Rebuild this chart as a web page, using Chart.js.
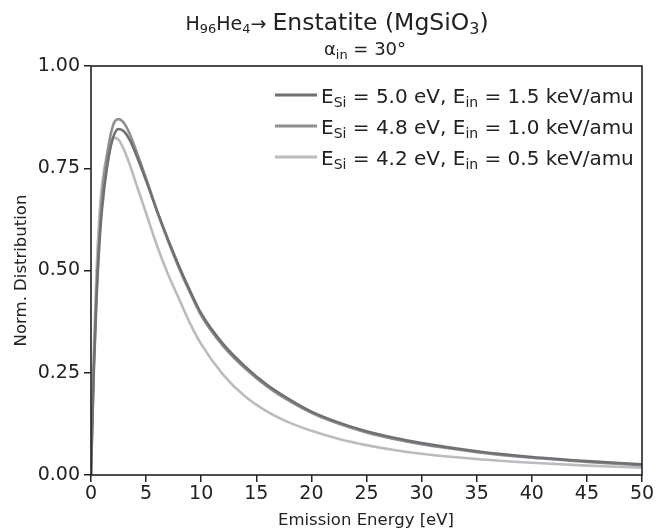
<!DOCTYPE html>
<html>
<head>
<meta charset="utf-8">
<title>Enstatite emission energy</title>
<script src="https://cdn.jsdelivr.net/npm/chart.js@4.4.1/dist/chart.umd.min.js"></script>
<style>
  html, body { margin: 0; padding: 0; background: #fff; }
  #wrap { width: 670px; height: 529px; }
</style>
</head>
<body>
<div id="wrap"><canvas id="chart" width="670" height="529"></canvas></div>
<script>
const ENERGY = [0, 0.25, 0.5, 0.75, 1, 1.5, 2, 2.5, 3, 3.5, 4, 5, 6, 7, 8, 9, 10,
  12, 14, 16, 18, 20, 22.5, 25, 27.5, 30, 35, 40, 45, 50];

// E_Si = 5.0 eV, E_in = 1.5 keV/amu
const DIST_50 = [0, 0.25, 0.43, 0.56, 0.65, 0.76, 0.825, 0.846, 0.84, 0.82, 0.79, 0.72, 0.645,
  0.575, 0.51, 0.45, 0.395, 0.32, 0.265, 0.22, 0.185, 0.155, 0.128, 0.107, 0.091, 0.078,
  0.058, 0.044, 0.034, 0.026];
// E_Si = 4.8 eV, E_in = 1.0 keV/amu
const DIST_48 = [0, 0.26, 0.45, 0.58, 0.68, 0.79, 0.855, 0.87, 0.86, 0.835, 0.80, 0.725, 0.645,
  0.572, 0.505, 0.445, 0.39, 0.315, 0.26, 0.216, 0.181, 0.152, 0.125, 0.104, 0.088, 0.075,
  0.056, 0.042, 0.032, 0.024];
// E_Si = 4.2 eV, E_in = 0.5 keV/amu
const DIST_42 = [0, 0.3, 0.5, 0.63, 0.71, 0.79, 0.825, 0.82, 0.795, 0.76, 0.72, 0.64, 0.56,
  0.49, 0.43, 0.37, 0.32, 0.245, 0.192, 0.155, 0.128, 0.108, 0.088, 0.073, 0.061, 0.052,
  0.039, 0.030, 0.023, 0.018];

const SERIES_LABELS = [
  ['5.0', '1.5'],
  ['4.8', '1.0'],
  ['4.2', '0.5'],
];
const COLORS = ['#707075', '#8e8e93', '#bcbcc0'];

const X_TICKS = [0, 5, 10, 15, 20, 25, 30, 35, 40, 45, 50];
const Y_TICKS = [0, 0.25, 0.5, 0.75, 1.0];

const FONT = '"DejaVu Sans", "Bitstream Vera Sans", sans-serif';
const INK = '#222222';

function points(vals) {
  return ENERGY.map((e, i) => ({x: e, y: vals[i]}));
}

// draws a run of [text, size, dy] pieces, centred on cx (or from cx if left)
function drawRuns(ctx, runs, cx, baseline, align) {
  let total = 0;
  runs.forEach(r => {
    ctx.font = r[1] + 'px ' + FONT;
    r.w = ctx.measureText(r[0]).width;
    total += r.w;
  });
  let x = align === 'left' ? cx : cx - total / 2;
  ctx.textAlign = 'left';
  ctx.textBaseline = 'alphabetic';
  runs.forEach(r => {
    ctx.font = r[1] + 'px ' + FONT;
    ctx.fillText(r[0], x, baseline + (r[2] || 0));
    x += r.w;
  });
}

const decorations = {
  id: 'decorations',
  afterDraw(chart) {
    const ctx = chart.ctx;
    const a = chart.chartArea;
    ctx.save();

    // frame
    ctx.strokeStyle = INK;
    ctx.lineWidth = 1.6;
    ctx.strokeRect(a.left, a.top, a.right - a.left, a.bottom - a.top);

    ctx.fillStyle = INK;
    const cx = (a.left + a.right) / 2;

    // title
    drawRuns(ctx, [
      ['H', 19], ['96', 13, 3], ['He', 19], ['4', 13, 3], ['\u2192 ', 19],
      ['Enstatite (MgSiO', 23.5], ['3', 16, 4], [')', 23.5],
    ], 337, 30);
    drawRuns(ctx, [['\u03b1', 18], ['in', 13, 4], [' = 30\u00b0', 18]], 365, 55);

    // axis titles
    ctx.font = '16.5px ' + FONT;
    ctx.textAlign = 'center';
    ctx.textBaseline = 'alphabetic';
    ctx.fillText('Emission Energy [eV]', 366, 525);
    ctx.save();
    ctx.translate(26, (a.top + a.bottom) / 2);
    ctx.rotate(-Math.PI / 2);
    ctx.fillText('Norm. Distribution', 0, 0);
    ctx.restore();

    // legend
    SERIES_LABELS.forEach((lab, i) => {
      const base = 103 + i * 31;
      ctx.strokeStyle = COLORS[i];
      ctx.lineWidth = 3;
      ctx.beginPath();
      ctx.moveTo(275, base - 8);
      ctx.lineTo(317, base - 8);
      ctx.stroke();
      drawRuns(ctx, [
        ['E', 20], ['Si', 14, 4], [' = ' + lab[0] + ' eV, E', 20], ['in', 14, 4],
        [' = ' + lab[1] + ' keV/amu', 20],
      ], 321, base, 'left');
    });
    ctx.restore();
  }
};

const data = {
  datasets: [DIST_50, DIST_48, DIST_42].map((vals, i) => ({
    data: points(vals),
    borderColor: COLORS[i],
    borderWidth: 2.6,
    pointRadius: 0,
    cubicInterpolationMode: 'monotone',
    fill: false,
  }))
};

new Chart(document.getElementById('chart'), {
  type: 'line',
  data: data,
  plugins: [decorations],
  options: {
    responsive: false,
    animation: false,
    events: [],
    layout: {padding: {left: 0, right: 28, top: 66, bottom: 0}},
    plugins: {legend: {display: false}, tooltip: {enabled: false}, title: {display: false}},
    scales: {
      x: {
        type: 'linear', min: 0, max: 50,
        afterFit: s => { s.height = 54; },
        afterBuildTicks: s => { s.ticks = X_TICKS.map(v => ({value: v})); },
        border: {display: false},
        grid: {drawOnChartArea: false, drawTicks: true, tickLength: 7, color: INK, lineWidth: 1.5},
        ticks: {color: INK, font: {family: FONT, size: 19}, padding: 1, maxRotation: 0,
          callback: v => String(v)},
      },
      y: {
        type: 'linear', min: 0, max: 1,
        afterFit: s => { s.width = 91; },
        afterBuildTicks: s => { s.ticks = Y_TICKS.map(v => ({value: v})); },
        border: {display: false},
        grid: {drawOnChartArea: false, drawTicks: true, tickLength: 7, color: INK, lineWidth: 1.5},
        ticks: {color: INK, font: {family: FONT, size: 19}, padding: 4,
          callback: v => Number(v).toFixed(2)},
      }
    }
  }
});
</script>
</body>
</html>
